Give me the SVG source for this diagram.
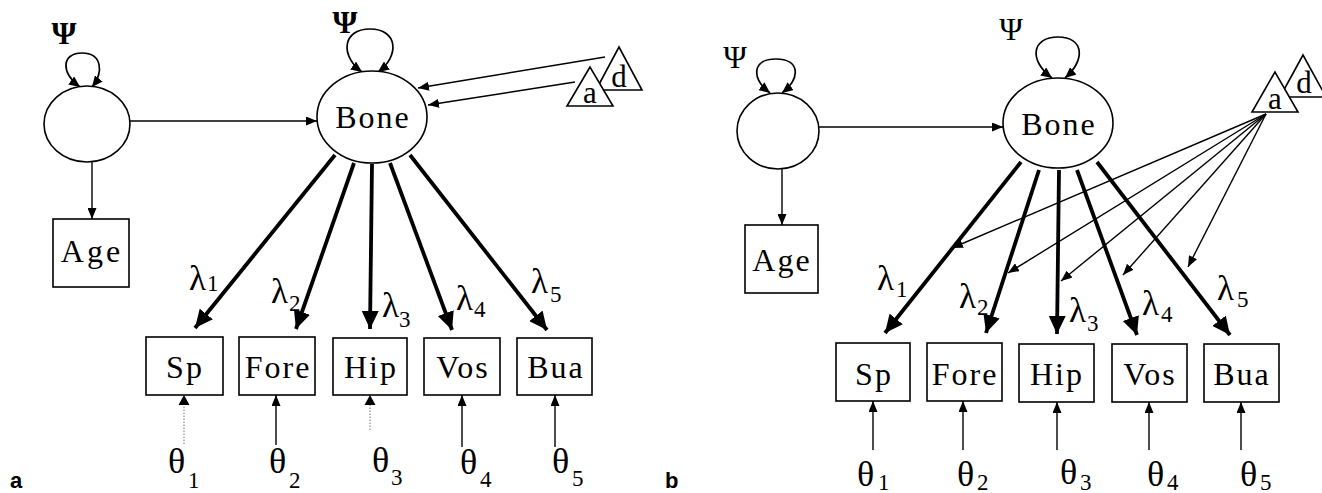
<svg xmlns="http://www.w3.org/2000/svg" width="1322" height="493" viewBox="0 0 1322 493">
  <defs>
    <marker id="head-big" markerUnits="userSpaceOnUse" markerWidth="19" markerHeight="17" refX="18" refY="8.5" orient="auto">
      <path d="M0,0 L18,8.5 L0,17 z" fill="#000"/>
    </marker>
    <marker id="head-small" markerUnits="userSpaceOnUse" markerWidth="11" markerHeight="9" refX="11" refY="4.5" orient="auto">
      <path d="M0,0 L11,4.5 L0,9 z" fill="#000"/>
    </marker>
    <marker id="head-loop" markerUnits="userSpaceOnUse" markerWidth="12" markerHeight="10" refX="11" refY="5" orient="auto-start-reverse">
      <path d="M0,0 L11,5 L0,10 z" fill="#000"/>
    </marker>
  </defs>
  <style>
    .shape { fill: #fff; stroke: #000; stroke-width: 1.6; }
    .thin { fill: none; stroke: #000; stroke-width: 1.4; marker-end: url(#head-small); }
    .faint { fill: none; stroke: #8a8a8a; stroke-width: 1.2; stroke-dasharray: 1.5 1.5; }
    .load { fill: none; stroke: #000; stroke-width: 3.8; marker-end: url(#head-big); }
    .loop { fill: none; stroke: #000; stroke-width: 1.7; marker-start: url(#head-loop); marker-end: url(#head-loop); }
    .lbl { font-family: "Liberation Serif", "Times New Roman", serif; font-size: 32px; letter-spacing: 2px; text-anchor: middle; fill: #000; }
    .tri { font-family: "Liberation Serif", "Times New Roman", serif; font-size: 31px; text-anchor: middle; fill: #000; }
    .lam { font-family: "Liberation Serif", "Times New Roman", serif; font-size: 35px; fill: #000; }
    .theta { font-family: "Liberation Serif", "Times New Roman", serif; font-size: 36px; fill: #000; }
    .sub { font-family: "Liberation Serif", "Times New Roman", serif; font-size: 23px; fill: #000; }
    .psi { font-family: "Liberation Serif", "Times New Roman", serif; font-size: 32px; text-anchor: middle; fill: #000; }
    .psi-b { font-weight: bold; }
    .panel { font-family: "Liberation Sans", Arial, sans-serif; font-size: 22px; font-weight: bold; fill: #000; }
  </style>

  <!-- ===== Panel a ===== -->
  <g id="a-connectors">
    <line class="thin" x1="130" y1="121" x2="317" y2="121"/>
    <line class="thin" x1="92" y1="162" x2="92" y2="219"/>
    <line class="thin" x1="605" y1="57" x2="418" y2="88"/>
    <line class="thin" x1="575" y1="82" x2="428" y2="105"/>
    <path class="loop" d="M80,87 C60,72 62,53 82,53 C102,53 104,72 92,87"/>
    <path class="loop" d="M362,72 C340,56 342,29 370,29 C398,29 400,56 378,72"/>
    <line class="load" x1="335" y1="155" x2="195" y2="328"/>
    <line class="load" x1="354" y1="163" x2="296" y2="329"/>
    <line class="load" x1="372" y1="164" x2="370" y2="329"/>
    <line class="load" x1="390" y1="163" x2="452" y2="330"/>
    <line class="load" x1="410" y1="155" x2="547" y2="330"/>
    <line class="faint" x1="184" y1="444" x2="184" y2="404"/>
    <path d="M178.5,405 L184,395 L189.5,405 z" fill="#000"/>
    <line class="thin" x1="276" y1="445" x2="276" y2="395"/>
    <line class="faint" x1="370" y1="430" x2="370" y2="404"/>
    <path d="M364.5,405 L370,395 L375.5,405 z" fill="#000"/>
    <line class="thin" x1="462" y1="447" x2="462" y2="395"/>
    <line class="thin" x1="555" y1="447" x2="555" y2="395"/>
  </g>

  <g id="a-eta">
    <ellipse class="shape" cx="87" cy="124" rx="43" ry="38"/>
    <text class="psi psi-b" x="64" y="44">Ψ</text>
  </g>
  <g id="a-bone">
    <ellipse class="shape" cx="372" cy="117" rx="55" ry="46"/>
    <text class="lbl" x="373" y="128">Bone</text>
    <text class="psi psi-b" x="345" y="33">Ψ</text>
  </g>
  <g id="a-age">
    <rect class="shape" x="53" y="219" width="76" height="68"/>
    <text class="lbl" x="92" y="262" style="letter-spacing:3px">Age</text>
  </g>
  <g id="a-d">
    <polygon class="shape" points="619,47 596,90 642,90"/>
    <text class="tri" x="619" y="87">d</text>
  </g>
  <g id="a-a">
    <polygon class="shape" points="590,67 567,106 613,106"/>
    <text class="tri" x="590" y="103">a</text>
  </g>

  <g id="a-sp">
    <rect class="shape" x="146" y="337" width="77" height="58"/>
    <text class="lbl" x="185" y="378">Sp</text>
  </g>
  <g id="a-fore">
    <rect class="shape" x="239" y="337" width="76" height="58"/>
    <text class="lbl" x="278" y="378">Fore</text>
  </g>
  <g id="a-hip">
    <rect class="shape" x="333" y="338" width="74" height="57"/>
    <text class="lbl" x="371" y="378">Hip</text>
  </g>
  <g id="a-vos">
    <rect class="shape" x="424" y="338" width="76" height="57"/>
    <text class="lbl" x="463" y="378">Vos</text>
  </g>
  <g id="a-bua">
    <rect class="shape" x="517" y="338" width="75" height="57"/>
    <text class="lbl" x="556" y="378">Bua</text>
  </g>

  <g id="a-loadings">
    <text class="lam" x="189" y="290">λ</text><text class="sub" x="207" y="291">1</text>
    <text class="lam" x="271" y="303">λ</text><text class="sub" x="289" y="311">2</text>
    <text class="lam" x="382" y="317">λ</text><text class="sub" x="399" y="327">3</text>
    <text class="lam" x="456" y="310">λ</text><text class="sub" x="474" y="317">4</text>
    <text class="lam" x="531" y="293">λ</text><text class="sub" x="550" y="302">5</text>
  </g>
  <g id="a-errors">
    <text class="theta" x="168" y="473">θ</text><text class="sub" x="188" y="488">1</text>
    <text class="theta" x="269" y="473">θ</text><text class="sub" x="289" y="488">2</text>
    <text class="theta" x="372" y="472">θ</text><text class="sub" x="391" y="485">3</text>
    <text class="theta" x="460" y="474">θ</text><text class="sub" x="480" y="487">4</text>
    <text class="theta" x="552" y="473">θ</text><text class="sub" x="572" y="486">5</text>
  </g>
  <text class="panel" x="10" y="488">a</text>

  <!-- ===== Panel b ===== -->
  <g id="b-connectors">
    <line class="thin" x1="819" y1="127" x2="1003" y2="127"/>
    <line class="thin" x1="782" y1="168" x2="782" y2="225"/>
    <path class="loop" d="M770,93 C751,78 752,59 776,59 C800,59 801,78 782,93"/>
    <path class="loop" d="M1052,78 C1028,60 1032,37 1058,37 C1084,37 1086,60 1065,78"/>
    <line class="load" x1="1021" y1="162" x2="885" y2="333"/>
    <line class="load" x1="1039" y1="170" x2="986" y2="333"/>
    <line class="load" x1="1059" y1="170" x2="1057" y2="334"/>
    <line class="load" x1="1077" y1="170" x2="1137" y2="335"/>
    <line class="load" x1="1097" y1="162" x2="1230" y2="335"/>
    <line class="thin" x1="1266" y1="114" x2="952" y2="248"/>
    <line class="thin" x1="1266" y1="114" x2="1008" y2="273"/>
    <line class="thin" x1="1266" y1="114" x2="1061" y2="281"/>
    <line class="thin" x1="1266" y1="114" x2="1123" y2="275"/>
    <line class="thin" x1="1266" y1="114" x2="1188" y2="267"/>
    <line class="thin" x1="873" y1="450" x2="873" y2="401"/>
    <line class="thin" x1="963" y1="450" x2="963" y2="401"/>
    <line class="thin" x1="1057" y1="450" x2="1057" y2="402"/>
    <line class="thin" x1="1149" y1="450" x2="1149" y2="402"/>
    <line class="thin" x1="1241" y1="450" x2="1241" y2="402"/>
  </g>

  <g id="b-eta">
    <ellipse class="shape" cx="778" cy="131" rx="41" ry="38"/>
    <text class="psi" x="735" y="68">Ψ</text>
  </g>
  <g id="b-bone">
    <ellipse class="shape" cx="1058" cy="123" rx="55" ry="45"/>
    <text class="lbl" x="1059" y="135">Bone</text>
    <text class="psi" x="1011" y="40">Ψ</text>
  </g>
  <g id="b-age">
    <rect class="shape" x="745" y="225" width="73" height="68"/>
    <text class="lbl" x="782" y="271">Age</text>
  </g>
  <g id="b-d">
    <polygon class="shape" points="1303,55 1280,97 1326,97"/>
    <text class="tri" x="1304" y="93">d</text>
  </g>
  <g id="b-a">
    <polygon class="shape" points="1275,72 1252,112 1298,112"/>
    <text class="tri" x="1275" y="109">a</text>
  </g>

  <g id="b-sp">
    <rect class="shape" x="836" y="343" width="74" height="58"/>
    <text class="lbl" x="874" y="385">Sp</text>
  </g>
  <g id="b-fore">
    <rect class="shape" x="927" y="343" width="75" height="58"/>
    <text class="lbl" x="965" y="385">Fore</text>
  </g>
  <g id="b-hip">
    <rect class="shape" x="1019" y="344" width="75" height="58"/>
    <text class="lbl" x="1057" y="385">Hip</text>
  </g>
  <g id="b-vos">
    <rect class="shape" x="1112" y="344" width="75" height="58"/>
    <text class="lbl" x="1150" y="385">Vos</text>
  </g>
  <g id="b-bua">
    <rect class="shape" x="1204" y="344" width="75" height="58"/>
    <text class="lbl" x="1242" y="385">Bua</text>
  </g>

  <g id="b-loadings">
    <text class="lam" x="877" y="290">λ</text><text class="sub" x="896" y="297">1</text>
    <text class="lam" x="959" y="308">λ</text><text class="sub" x="977" y="315">2</text>
    <text class="lam" x="1069" y="322">λ</text><text class="sub" x="1087" y="331">3</text>
    <text class="lam" x="1142" y="315">λ</text><text class="sub" x="1161" y="322">4</text>
    <text class="lam" x="1217" y="300">λ</text><text class="sub" x="1237" y="307">5</text>
  </g>
  <g id="b-errors">
    <text class="theta" x="857" y="486">θ</text><text class="sub" x="878" y="490">1</text>
    <text class="theta" x="957" y="486">θ</text><text class="sub" x="977" y="490">2</text>
    <text class="theta" x="1060" y="484">θ</text><text class="sub" x="1080" y="490">3</text>
    <text class="theta" x="1147" y="486">θ</text><text class="sub" x="1167" y="490">4</text>
    <text class="theta" x="1240" y="486">θ</text><text class="sub" x="1260" y="490">5</text>
  </g>
  <text class="panel" x="665" y="488">b</text>
</svg>
